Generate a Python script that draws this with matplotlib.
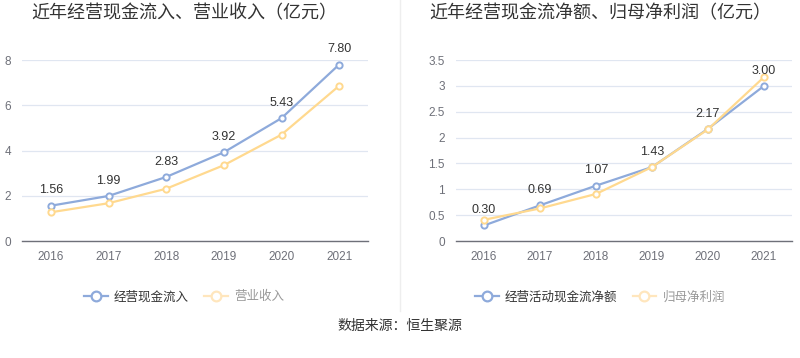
import matplotlib.pyplot as plt
from matplotlib.lines import Line2D

plt.rcParams['font.family'] = ['Liberation Sans', 'Noto Sans CJK SC', 'DejaVu Sans']

years = ['2016', '2017', '2018', '2019', '2020', '2021']

# 左图：经营现金流入、营业收入
cash_in = [1.56, 1.99, 2.83, 3.92, 5.43, 7.80]
revenue = [1.27, 1.67, 2.31, 3.35, 4.70, 6.86]

# 右图：经营活动现金流净额、归母净利润
cash_net = [0.30, 0.69, 1.07, 1.43, 2.17, 3.00]
net_profit = [0.41, 0.63, 0.91, 1.43, 2.16, 3.17]

blue = '#8eaadb'
yellow = '#ffd98f'
legend_yellow = '#ffe6bd'

fig = plt.figure(figsize=(8, 3.58), dpi=100)


def draw(ax, s1, s2, ymax, yticks, yticklabels):
    x = range(len(years))
    ax.plot(x, s1, color=blue, lw=1.6, marker='o', ms=4.5,
            mfc='white', mec=blue, mew=1.4, zorder=3)
    ax.plot(x, s2, color=yellow, lw=1.6, marker='o', ms=4.5,
            mfc='white', mec=yellow, mew=1.4, zorder=4)
    for i, v in enumerate(s1):
        ax.annotate('%.2f' % v, (i, v), xytext=(0, 11), textcoords='offset points',
                    ha='center', va='center', fontsize=9, color='#333333',
                    zorder=5, annotation_clip=False)
    ax.set_xlim(-0.5, len(years) - 0.5)
    ax.set_ylim(0, ymax)
    ax.set_xticks(list(x))
    ax.set_xticklabels(years)
    ax.set_yticks(yticks)
    ax.set_yticklabels(yticklabels)
    ax.tick_params(axis='both', colors='#6e7079', labelsize=8.5, length=0)
    ax.tick_params(axis='x', pad=7)
    ax.tick_params(axis='y', pad=8)
    ax.grid(axis='y', color='#e0e6f1', lw=0.9)
    ax.set_axisbelow(True)
    for s in ['top', 'right', 'left']:
        ax.spines[s].set_visible(False)
    ax.spines['bottom'].set_color('#6e7079')
    ax.spines['bottom'].set_linewidth(1)


ax1 = fig.add_axes([0.0275, 0.3268, 0.4325, 0.5056])
draw(ax1, cash_in, revenue, 8, [0, 2, 4, 6, 8], ['0', '2', '4', '6', '8'])

ax2 = fig.add_axes([0.57, 0.3268, 0.42, 0.5056])
draw(ax2, cash_net, net_profit, 3.5, [0, 0.5, 1, 1.5, 2, 2.5, 3, 3.5],
     ['0', '0.5', '1', '1.5', '2', '2.5', '3', '3.5'])

fig.text(0.23, 0.963, '近年经营现金流入、营业收入（亿元）', ha='center', va='center',
         fontsize=13, color='#333333')
fig.text(0.75, 0.963, '近年经营现金流净额、归母净利润（亿元）', ha='center', va='center',
         fontsize=13, color='#333333')

# 中间分隔线
fig.add_artist(Line2D([0.5, 0.5], [0.13, 1.0], color='#eeeeee', lw=1,
                      transform=fig.transFigure))


def legend(labels, xc):
    handles = [
        Line2D([], [], color=blue, lw=1.6, marker='o', ms=7, mfc='white', mec=blue, mew=1.6),
        Line2D([], [], color=legend_yellow, lw=1.6, marker='o', ms=7, mfc='white',
               mec=legend_yellow, mew=1.6),
    ]
    leg = fig.legend(handles, labels, loc='center', bbox_to_anchor=(xc, 0.17),
                     ncol=2, frameon=False, fontsize=9, handlelength=1.9,
                     handletextpad=0.5, columnspacing=1.2)
    leg.get_texts()[0].set_color('#333333')
    leg.get_texts()[1].set_color('#999999')


legend(['经营现金流入', '营业收入'], 0.23)
legend(['经营活动现金流净额', '归母净利润'], 0.75)

fig.text(0.5, 0.09, '数据来源：恒生聚源', ha='center', va='center',
         fontsize=10, color='#333333')

fig.savefig('out.png', dpi=100)
